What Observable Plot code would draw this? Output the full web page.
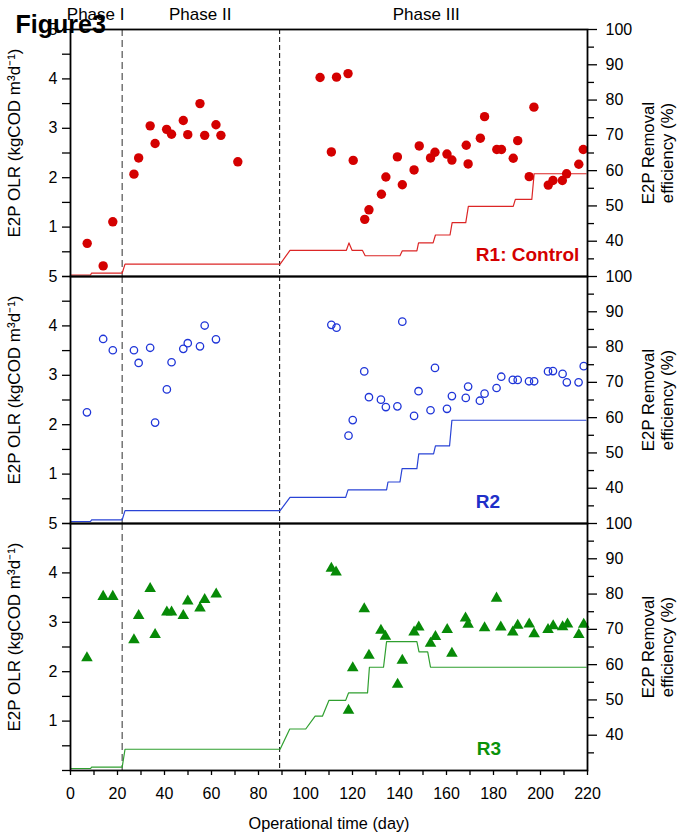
<!DOCTYPE html>
<html>
<head>
<meta charset="utf-8">
<script src="https://cdn.jsdelivr.net/npm/d3@7"></script>
<script src="https://cdn.jsdelivr.net/npm/@observablehq/plot@0.6"></script>
<style>
  body { margin: 0; background: #fff; }
  #chart { width: 683px; height: 835px; }
</style>
</head>
<body>
<div id="chart"></div>
<script>
// ---------- DATA ----------
const panels = ["R1", "R2", "R3"];
const panelNames = ["R1: Control", "R2", "R3"];
const phaseNames = ["Phase I", "Phase II", "Phase III"];
const phaseLabelDays = [10.7, 55.2, 151.4];
const phaseBounds = [22, 89];
const xTicks = [0, 20, 40, 60, 80, 100, 120, 140, 160, 180, 200, 220];
const leftTicks = [1, 2, 3, 4, 5];
const rightTicks = [40, 50, 60, 70, 80, 90, 100];

// E2P removal efficiency (%) — right axis
const days1 = [7.1, 13.9, 18.0, 27.0, 29.0, 33.9, 36.0, 40.9, 43.0, 48.0, 49.9, 55.1, 57.1, 61.9, 64.0, 71.2,
  106.2, 111.0, 113.2, 118.1, 120.3, 125.2, 127.0, 132.3, 134.2, 139.1, 141.2, 146.2, 148.4, 153.2, 155.1,
  160.2, 162.3, 168.4, 169.2, 174.4, 176.2, 181.4, 183.4, 188.4, 190.3, 195.2, 197.2, 203.3, 205.3, 209.3,
  211.1, 216.3, 218.2];
const eff1 = [39.4, 33.0, 45.5, 59.0, 63.6, 72.7, 67.7, 71.7, 70.3, 74.2, 70.2, 79.0, 70.0, 73.0, 70.0, 62.5,
  86.4, 65.3, 86.5, 87.5, 62.9, 46.2, 48.9, 53.3, 58.2, 63.9, 56.0, 60.2, 67.0, 63.6, 65.2,
  64.7, 63.0, 67.2, 61.9, 69.2, 75.3, 66.0, 66.0, 63.5, 68.5, 58.3, 78.0, 55.9, 57.2, 57.2,
  59.1, 61.8, 66.0];

const days2 = [7.0, 13.9, 18.0, 27.0, 29.0, 33.9, 36.0, 41.0, 43.0, 48.0, 49.9, 55.1, 57.1, 61.9,
  111.0, 113.2, 118.3, 120.1, 125.0, 127.0, 132.1, 134.2, 139.1, 141.2, 146.2, 148.1, 153.2, 155.1, 160.2,
  162.3, 168.2, 169.2, 174.2, 176.2, 181.3, 183.3, 188.2, 190.3, 195.1, 197.3, 203.2, 205.3, 209.4, 211.2,
  216.2, 218.4];
const eff2 = [61.5, 82.3, 79.1, 79.1, 75.5, 79.8, 58.6, 68.0, 75.7, 79.5, 81.1, 80.2, 86.1, 82.2,
  86.3, 85.5, 54.9, 59.3, 73.1, 65.8, 65.1, 63.0, 63.2, 87.2, 60.5, 67.5, 62.1, 74.1, 62.5,
  66.1, 65.6, 68.8, 64.8, 66.8, 68.4, 71.6, 70.7, 70.7, 70.3, 70.3, 73.1, 73.2, 72.4, 70.0,
  70.0, 74.6];

const days3 = [7.0, 13.9, 18.0, 27.0, 29.0, 33.9, 36.0, 41.0, 43.0, 48.0, 49.9, 55.1, 57.1, 62.0,
  111.0, 113.0, 118.3, 120.1, 125.0, 127.0, 132.1, 134.0, 139.2, 141.2, 146.2, 148.2, 153.2, 155.3, 160.3,
  162.3, 168.1, 169.2, 176.2, 181.3, 183.1, 188.2, 190.3, 195.2, 197.3, 203.2, 205.4, 209.4, 211.5,
  216.3, 218.4];
const eff3 = [61.9, 79.3, 79.3, 67.0, 73.9, 81.5, 68.5, 74.9, 74.9, 73.9, 78.0, 76.0, 78.4, 80.0,
  87.3, 86.2, 47.0, 59.1, 75.8, 62.6, 69.7, 68.0, 54.4, 61.2, 69.2, 70.6, 66.0, 67.9, 69.9,
  63.2, 73.2, 71.4, 70.4, 78.8, 70.6, 69.2, 71.1, 71.5, 68.7, 69.9, 71.0, 70.7, 71.5,
  68.5, 71.4];

// E2P OLR (kgCOD m3 d-1) — left axis
const olrDays1 = [0, 8.5, 9, 22, 23.2, 89.2, 93.4, 117.4, 118.5, 119.8, 124.2, 125.4, 140.2, 141.2, 147.4, 148.1,
  154.3, 155.3, 161.5, 162.4, 168.2, 169.3, 188.4, 189.3, 196.3, 197.3, 219.4];
const olr1 = [0.03, 0.03, 0.07, 0.07, 0.25, 0.25, 0.53, 0.53, 0.68, 0.53, 0.53, 0.42, 0.42, 0.52, 0.52, 0.68,
  0.68, 0.84, 0.84, 1.09, 1.09, 1.42, 1.42, 1.56, 1.56, 2.08, 2.08];

const olrDays2 = [0, 8.5, 9, 22, 23.2, 89.2, 93.4, 117.1, 118.1, 134.5, 135.1, 140.2, 141.1, 147.4, 148.2,
  154.5, 155.3, 161.3, 162.3, 219.3];
const olr2 = [0.04, 0.04, 0.075, 0.075, 0.26, 0.26, 0.53, 0.53, 0.68, 0.68, 0.84, 0.84, 1.11, 1.11, 1.41,
  1.41, 1.57, 1.57, 2.09, 2.09];

const olrDays3 = [0, 8.5, 9, 22, 23.2, 89.2, 93.3, 100.1, 104.1, 107.2, 110.0, 117.1, 118.3, 126.4, 127.2,
  133.2, 134.5, 147.4, 148.3, 152.0, 153.2, 219.4];
const olr3 = [0.04, 0.04, 0.07, 0.07, 0.43, 0.43, 0.84, 0.84, 1.10, 1.10, 1.42, 1.42, 1.57, 1.57, 2.09,
  2.09, 2.61, 2.61, 2.40, 2.40, 2.09, 2.09];

// ---------- BUILD ----------
const toY = p => (p - 30) / 14;          // right axis (30–100 %) onto left axis units (0–5)
const fromY = v => Math.round(v * 14 + 30);
const font = "'Liberation Sans', Arial, Helvetica, sans-serif";

const effSets = [[days1, eff1], [days2, eff2], [days3, eff3]];
const olrSets = [[olrDays1, olr1], [olrDays2, olr2], [olrDays3, olr3]];
const effRows = effSets.map(([ds, es], k) => ds.map((d, i) => ({panel: panels[k], day: d, eff: es[i]})));
const olrRows = olrSets.map(([ds, vs], k) => ds.map((d, i) => ({panel: panels[k], day: d, olr: vs[i]})));

const style = [
  {dot: {r: 4.7, fill: "#d40000", stroke: "none"}, line: "#dc2626", text: "#d40000", labelDay: 194.5},
  {dot: {r: 3.7, fill: "none", stroke: "#1f35d8", strokeWidth: 1.3}, line: "#2a44d6", text: "#1f2fc8", labelDay: 177.6},
  {dot: {r: 4.3, fill: "#078a07", stroke: "none", symbol: "triangle"}, line: "#2f9f2f", text: "#0a920a", labelDay: 178.0}
];

const marks = [];
// phase boundaries
marks.push(Plot.ruleX([phaseBounds[0]], {stroke: "#6a6a6a", strokeWidth: 1.4, strokeDasharray: "7,4"}));
marks.push(Plot.ruleX([phaseBounds[1]], {stroke: "#000", strokeWidth: 1, strokeDasharray: "5,3"}));

panels.forEach((p, k) => {
  marks.push(Plot.line(olrRows[k], {x: "day", y: "olr", fy: "panel", stroke: style[k].line, strokeWidth: 1.2}));
  marks.push(Plot.dot(effRows[k], {x: "day", y: d => toY(d.eff), fy: "panel", ...style[k].dot}));
  marks.push(Plot.text([panelNames[k]], {
    fy: () => p, x: style[k].labelDay, y: 0.43, text: d => d,
    fill: style[k].text, fontWeight: "bold", fontSize: 19
  }));
});

// frames
marks.push(Plot.frame({stroke: "#000", strokeWidth: 1.8}));

// axes
marks.push(Plot.axisY(d3.range(0, 5.01, 0.5), {
  anchor: "left", tickSize: 8, tickPadding: 5, strokeWidth: 1.3, fontSize: 16, label: null,
  tickFormat: d => leftTicks.includes(d) ? String(d) : ""
}));
marks.push(Plot.axisY(rightTicks.map(toY), {
  anchor: "right", tickSize: 9, tickPadding: 9, strokeWidth: 1.3, fontSize: 16, label: null,
  tickFormat: d => String(fromY(d))
}));
marks.push(Plot.axisY(d3.range(35, 100, 10).map(toY), {
  anchor: "right", tickSize: 6, strokeWidth: 1.3, label: null, tickFormat: () => ""
}));
marks.push(Plot.axisX(d3.range(0, 221, 10), {
  anchor: "bottom", tickSize: 5, tickPadding: 12, strokeWidth: 1.3, fontSize: 16, label: null,
  tickFormat: d => xTicks.includes(d) ? String(d) : ""
}));

// axis titles
marks.push(Plot.text(panels, {
  fy: d => d, frameAnchor: "left", textAnchor: "middle", lineAnchor: "middle",
  rotate: -90, dx: -56, dy: -10, fontSize: 17,
  text: () => "E2P OLR (kgCOD m\u00B3d\u207B\u00B9)"
}));
marks.push(Plot.text(panels, {
  fy: d => d, frameAnchor: "right", textAnchor: "middle", lineAnchor: "middle",
  rotate: -90, dx: 70, fontSize: 16.8, lineHeight: 1.15,
  text: () => "E2P Removal\nefficiency (%)"
}));
marks.push(Plot.text(["Operational time (day)"], {
  fy: () => "R3", frameAnchor: "bottom", dy: 53, lineAnchor: "middle", fontSize: 16.3, text: d => d
}));

// phase labels and figure tag
marks.push(Plot.text(phaseNames, {
  fy: () => "R1", x: (d, i) => phaseLabelDays[i], frameAnchor: "top", dy: -14.5,
  lineAnchor: "middle", fontSize: 17, text: d => d
}));
marks.push(Plot.text(["Figure3"], {
  fy: () => "R1", frameAnchor: "top-left", textAnchor: "start", dx: -55, dy: -5,
  lineAnchor: "middle", fontSize: 25, fontWeight: "bold", text: d => d
}));

const chart = Plot.plot({
  width: 683,
  height: 835,
  marginLeft: 70,
  marginRight: 96,
  marginTop: 29,
  marginBottom: 65,
  style: {fontFamily: font, fontSize: "16px", color: "#000", background: "#fff", overflow: "visible"},
  x: {domain: [0, 220]},
  y: {domain: [0, 5]},
  fy: {domain: panels, padding: 0, axis: null},
  marks
});
document.getElementById("chart").appendChild(chart);
</script>
</body>
</html>
